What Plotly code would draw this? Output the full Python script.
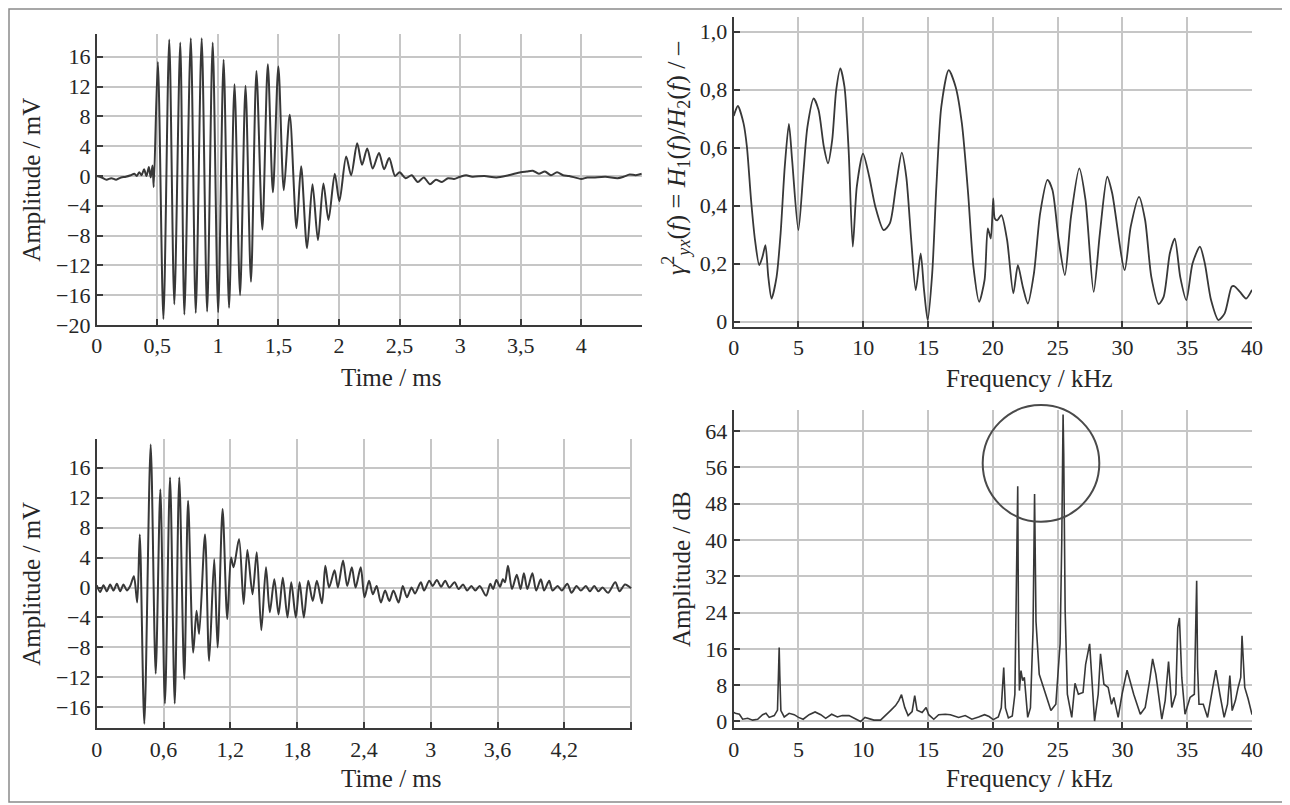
import plotly.graph_objects as go

# ---------------- data ----------------
# Panel 1: time signal (top-left)
time_top = [0, 0.04, 0.08, 0.12, 0.16, 0.2, 0.24, 0.28, 0.31, 0.33, 0.35, 0.37, 0.39, 0.41, 0.43, 0.445, 0.46, 0.47,
            0.504, 0.55, 0.598, 0.64, 0.689, 0.723, 0.776, 0.817, 0.866, 0.911,
            0.957, 1.002, 1.047, 1.092, 1.137, 1.183, 1.228, 1.273, 1.318, 1.367,
            1.412, 1.454, 1.499, 1.544, 1.593, 1.649, 1.687, 1.736, 1.781, 1.826,
            1.871, 1.913, 1.965, 2.003, 2.059, 2.10, 2.15, 2.19, 2.233, 2.278,
            2.33, 2.372, 2.414, 2.463,
            2.5, 2.55, 2.6, 2.65, 2.7, 2.75, 2.8, 2.85, 2.9, 2.95,
            3.0, 3.05, 3.1, 3.2, 3.3, 3.4, 3.5, 3.55, 3.6, 3.65,
            3.7, 3.75, 3.8, 3.85, 3.9, 4.0, 4.05, 4.1, 4.2, 4.3,
            4.35, 4.4, 4.45, 4.5]
amp_top = [0, -0.2, -0.5, -0.3, -0.5, -0.2, -0.1, 0.1, 0.3, 0.0, 0.5, 0.1, 0.9, 0.0, 1.2, -0.2, 1.4, -1.5,
           15.3, -19.2, 18.3, -17.2, 17.9, -18.6, 18.5, -18.4, 18.5, -18.2,
           17.9, -18.3, 15.6, -17.7, 12.3, -16.0, 12.1, -14.2, 14.1, -7.2,
           15.0, -2.2, 14.7, -1.9, 8.2, -7.0, 1.3, -9.7, -1.1, -8.6,
           -1.0, -5.9, 0.3, -3.4, 2.6, 0.1, 4.4, 1.5, 3.7, 1.0,
           3.1, 0.9, 2.4, 0.0,
           0.5, -0.3, 0.1, -0.8, -0.2, -1.1, -0.5, -0.8, -0.3, -0.4,
           -0.1, 0.1, -0.1, 0.0, -0.2, 0.1, 0.5, 0.6, 0.7, 0.3,
           0.6, 0.1, 0.5, 0.1, 0.0, -0.4, -0.2, -0.2, -0.1, -0.3,
           -0.1, 0.2, 0.1, 0.3]

# Panel 2: coherence (top-right)
freq_coh = [0.0, 0.06, 0.32, 0.76, 1.02, 1.34, 1.65, 1.97, 2.22, 2.45, 2.67, 2.92, 3.31, 3.62, 3.94, 4.26, 4.51,
            4.99, 5.37, 5.69, 6.17, 6.55, 6.96, 7.28, 7.6, 7.91, 8.23, 8.55, 8.87, 9.19, 9.5, 9.98,
            10.46, 10.93, 11.57, 12.05, 12.52, 12.97, 13.32, 13.7, 14.05, 14.43, 14.69, 14.97, 15.32,
            15.64, 16.02, 16.59, 17.13, 17.61, 18.09, 18.5, 18.94, 19.36, 19.61, 19.84, 20.03, 20.15,
            20.34, 20.66, 21.1, 21.58, 21.93, 22.31, 22.7, 23.17, 23.65, 24.22, 24.6, 25.08, 25.56,
            26.03, 26.67, 27.15, 27.78, 28.26, 28.83, 29.21, 30.17, 30.64, 31.28, 31.75, 32.23, 32.8,
            33.18, 33.66, 34.04, 34.46, 34.93, 35.41, 35.98, 36.36, 36.84, 37.41, 37.89, 38.43, 38.62,
            39.07, 39.54, 40.0]
coh_vals = [0.71, 0.718, 0.744, 0.684, 0.603, 0.42, 0.28, 0.195, 0.224, 0.264, 0.155, 0.08, 0.155, 0.305, 0.534, 0.682, 0.557,
            0.316, 0.511, 0.672, 0.77, 0.73, 0.603, 0.546, 0.626, 0.799, 0.874, 0.81, 0.592, 0.259, 0.466, 0.58,
            0.5, 0.397, 0.316, 0.339, 0.466, 0.583, 0.5, 0.282, 0.109, 0.236, 0.109, 0.006, 0.167,
            0.466, 0.741, 0.868, 0.81, 0.684, 0.443, 0.19, 0.069, 0.144, 0.322, 0.287, 0.425, 0.356,
            0.35, 0.368, 0.282, 0.098, 0.195, 0.121, 0.063, 0.167, 0.374, 0.489, 0.454, 0.282, 0.161,
            0.362, 0.529, 0.42, 0.103, 0.305, 0.5, 0.443, 0.178, 0.328, 0.431, 0.351, 0.155, 0.061,
            0.086, 0.236, 0.287, 0.155, 0.075, 0.201, 0.259, 0.201, 0.075, 0.006, 0.029, 0.121, 0.123,
            0.103, 0.08, 0.11]

# Panel 3: time signal (bottom-left)
time_bot = [0, 0.03, 0.06, 0.09, 0.12, 0.15, 0.18, 0.21, 0.24, 0.27, 0.30, 0.333, 0.363,
            0.386, 0.427, 0.484, 0.529, 0.571, 0.612, 0.658, 0.70, 0.741, 0.786, 0.82, 0.866, 0.896, 0.919,
            0.972, 1.009, 1.055, 1.085, 1.13, 1.172, 1.206, 1.229, 1.278, 1.319, 1.353, 1.399, 1.437,
            1.478, 1.52, 1.554, 1.595, 1.633, 1.671, 1.713, 1.747, 1.788, 1.822, 1.86, 1.9, 1.94, 1.977,
            2.023, 2.053, 2.087, 2.136, 2.166, 2.212, 2.25, 2.291, 2.325, 2.371, 2.405, 2.446, 2.48,
            2.514, 2.552, 2.59, 2.628, 2.665, 2.711, 2.749, 2.786, 2.828, 2.858, 2.911, 2.94, 2.987,
            3.017, 3.055, 3.093, 3.13, 3.168, 3.214, 3.25, 3.29, 3.327, 3.365, 3.4, 3.44, 3.497, 3.535,
            3.56, 3.59, 3.622, 3.648, 3.667, 3.694, 3.73, 3.773, 3.807, 3.837, 3.868, 3.913, 3.947,
            3.989, 4.019, 4.064, 4.094, 4.14, 4.178, 4.227, 4.265, 4.31, 4.348, 4.393, 4.43, 4.469,
            4.507, 4.544, 4.593, 4.658, 4.696, 4.745, 4.80]
amp_bot = [0.3, -0.6, 0.3, -0.5, 0.4, -0.4, 0.5, -0.5, 0.4, -0.4, 0.2, 1.5, -2.0,
           7.1, -18.2, 19.1, -11.5, 13.1, -15.5, 14.7, -15.5, 14.7, -12.2, 11.6, -8.7, -3.1, -6.2,
           7.1, -9.8, 3.8, -8.0, 10.5, -4.2, 4.0, 2.7, 6.5, -2.2, 5.0, -0.9, 4.7,
           -5.7, 2.7, -3.3, 1.1, -3.6, 1.3, -4.0, 0.7, -4.0, 0.7, -4.0, 0.9, -1.8, 0.9,
           -2.1, 2.9, 0.0, 2.3, 0.0, 3.6, 0.2, 2.7, 0.0, 2.7, -1.3, 0.9, -0.9,
           0.2, -2.0, -0.4, -1.8, -0.4, -2.0, 0.2, -1.3, 0.0, -0.8, 0.7, -0.4, 0.9,
           0.2, 1.0, 0.1, 0.9, 0.0, 0.7, -0.2, 0.4, -0.4, 0.2, -0.4, 0.2, -1.1, 0.5,
           -0.2, 1.0, 0.1, 1.1, 0.7, 2.9, -0.2, 1.7, -0.2, 1.9, -0.2, 1.9, -0.4,
           1.1, -0.4, 0.9, -0.4, 0.2, -0.4, 0.5, -0.7, 0.2, -0.4, 0.2, -0.5, 0.2,
           -0.5, 0.0, -0.7, 0.7, -0.5, 0.4, -0.1]

# Panel 4: amplitude spectrum (bottom-right)
freq_spec = [0.0, 0.13, 0.44, 0.69, 1.08, 1.46, 1.85, 2.23, 2.49, 2.74, 3.13, 3.38, 3.47, 3.51, 3.56, 3.64, 3.9,
             4.28, 4.67, 5.0, 5.36, 5.82, 6.28, 6.72, 7.1, 7.56, 8.0, 8.38, 8.9, 9.41, 9.79, 10.13, 10.44,
             10.82, 11.33, 11.72, 12.1, 12.49, 12.74, 12.95, 13.2, 13.46, 13.77, 13.97, 14.15, 14.54, 14.85,
             15.05, 15.44, 15.82, 16.33, 16.72, 17.36, 17.87, 18.38, 18.9, 19.36, 19.71, 20.03, 20.42, 20.65,
             20.84, 20.97, 21.2, 21.5, 21.7, 21.8, 21.92, 21.98, 22.05, 22.17, 22.3, 22.43, 22.69, 22.9, 23.1,
             23.22, 23.33, 23.58, 24.09, 24.48, 24.86, 25.19, 25.32, 25.42, 25.47, 25.52, 25.58, 25.75, 26.09,
             26.34, 26.6, 26.96, 27.16, 27.47, 27.62, 27.85, 28.13, 28.31, 28.57, 28.9, 29.16, 29.34, 29.67,
             29.97, 30.36, 30.87, 31.38, 31.76, 32.1, 32.33, 32.58, 33.04, 33.3, 33.56, 33.81, 34.12, 34.27,
             34.4, 34.58, 34.83, 35.22, 35.55, 35.65, 35.73, 35.8, 35.91, 36.24, 36.57, 36.93, 37.21, 37.52,
             37.85, 38.11, 38.29, 38.47, 38.72, 38.93, 39.13, 39.23, 39.44, 39.7, 40.0]
spec_db = [2.0, 1.8, 1.6, 0.5, 0.7, 0.3, 0.5, 1.5, 1.8, 0.9, 1.3, 2.5, 12.0, 16.3, 10.0, 2.4, 1.0,
           1.8, 1.5, 0.9, 0.5, 1.5, 2.1, 1.5, 0.7, 1.6, 1.0, 1.3, 1.3, 0.5, 0.0, 0.9, 0.7,
           0.3, 0.3, 1.3, 2.4, 3.5, 4.6, 5.9, 3.1, 1.3, 2.2, 5.7, 2.5, 2.0, 3.1,
           1.5, 0.5, 1.5, 1.6, 1.5, 0.9, 1.3, 0.5, 1.0, 1.5, 1.1, 0.4, 1.0, 3.0,
           11.9, 3.0, 0.8, 1.2, 6.0, 30.0, 51.8, 20.0, 6.8, 11.2, 9.0, 9.7, 0.9, 3.0, 20.0,
           50.1, 22.0, 10.4, 6.0, 2.4, 3.8, 17.1, 40.0, 67.6, 59.0, 35.0, 24.4, 6.0, 0.9,
           8.4, 6.0, 6.4, 12.6, 17.1, 10.4, 0.1, 6.0, 14.9, 8.2, 7.5, 3.8, 5.3, 0.9,
           6.0, 11.3, 6.0, 1.6, 3.1, 9.0, 13.8, 10.4, 0.5, 4.6, 13.2, 3.1, 6.0, 20.7,
           22.8, 9.7, 1.6, 5.3, 6.0, 20.0, 31.0, 12.0, 3.8, 3.8, 0.9, 6.8, 11.3, 6.0,
           0.9, 3.8, 10.1, 2.4, 4.6, 7.5, 9.7, 18.9, 7.5, 5.0, 1.5]

# tick labels
tt_time_top_vals = [0, 0.5, 1, 1.5, 2, 2.5, 3, 3.5, 4, 4.5]
tt_time_top_text = ["0", "0,5", "1", "1,5", "2", "2,5", "3", "3,5", "4", ""]
tt_time_bot_vals = [0, 0.6, 1.2, 1.8, 2.4, 3.0, 3.6, 4.2, 4.8]
tt_time_bot_text = ["0", "0,6", "1,2", "1,8", "2,4", "3", "3,6", "4,2", ""]
tt_freq_vals = [0, 5, 10, 15, 20, 25, 30, 35, 40]
tt_coh_vals = [0, 0.2, 0.4, 0.6, 0.8, 1.0]
tt_coh_text = ["0", "0,2", "0,4", "0,6", "0,8", "1,0"]
tt_amp_top_vals = [-20, -16, -12, -8, -4, 0, 4, 8, 12, 16]
tt_amp_bot_vals = [-16, -12, -8, -4, 0, 4, 8, 12, 16]
tt_db_vals = [0, 8, 16, 24, 32, 40, 48, 56, 64]

# ---------------- styling / layout ----------------
# The page body has an 8 px margin, so positions below are given in window
# pixels and shifted by OFF into figure coordinates.
OFF = 8
FW, FH = 1282, 797
FONT = "Liberation Serif"
TXT = "#262626"
LINE = "#383838"


def px_x(p):
    return (p - OFF) / FW


def px_y(p):
    return 1 - (p - OFF) / FH


def dom_x(a, b):
    return [px_x(a), px_x(b)]


def dom_y(top, bottom):
    return [px_y(bottom), px_y(top)]


def axis(**kw):
    d = dict(showline=True, linecolor="#3a3a3a", linewidth=2, mirror=False,
             showgrid=True, gridcolor="#c6c6c6", gridwidth=1.5, zeroline=False,
             ticks="inside", ticklen=6, tickwidth=2, tickcolor="#3a3a3a",
             tickfont=dict(family=FONT, size=22, color=TXT), fixedrange=True,
             tickmode="array", automargin=False)
    d.update(kw)
    return d


def ttl(text, standoff):
    return dict(text=text, font=dict(family=FONT, size=25, color=TXT), standoff=standoff)


fig = go.Figure()
fig.add_trace(go.Scatter(x=time_top, y=amp_top, mode="lines", xaxis="x", yaxis="y",
                         line=dict(color=LINE, width=2, shape="spline", smoothing=0.8),
                         showlegend=False, hoverinfo="skip"))
fig.add_trace(go.Scatter(x=freq_coh, y=coh_vals, mode="lines", xaxis="x2", yaxis="y2",
                         line=dict(color=LINE, width=1.8, shape="spline", smoothing=0.7),
                         showlegend=False, hoverinfo="skip"))
fig.add_trace(go.Scatter(x=time_bot, y=amp_bot, mode="lines", xaxis="x3", yaxis="y3",
                         line=dict(color=LINE, width=2, shape="spline", smoothing=0.8),
                         showlegend=False, hoverinfo="skip"))
fig.add_trace(go.Scatter(x=freq_spec, y=spec_db, mode="lines", xaxis="x4", yaxis="y4",
                         line=dict(color=LINE, width=1.6),
                         showlegend=False, hoverinfo="skip"))

coh_title = ("<i>γ</i><sup>2</sup><sub><i>yx</i></sub>(<i>f</i>) = <i>H</i><sub>1</sub>(<i>f</i>)/"
             "<i>H</i><sub>2</sub>(<i>f</i>) / –")

fig.update_layout(
    width=FW, height=FH,
    margin=dict(l=0, r=0, t=0, b=0, autoexpand=False),
    paper_bgcolor="white", plot_bgcolor="white",
    separators=", ",
    font=dict(family=FONT, color=TXT),
    xaxis=axis(domain=dom_x(96.8, 641.8), anchor="y", range=[0, 4.5],
               tickvals=tt_time_top_vals, ticktext=tt_time_top_text),
    yaxis=axis(domain=dom_y(34.4, 325), anchor="x", range=[-20, 19],
               tickvals=tt_amp_top_vals, title=ttl("Amplitude / mV", 8)),
    xaxis2=axis(domain=dom_x(733.7, 1252), anchor="y2", range=[0, 40],
                tickvals=tt_freq_vals),
    yaxis2=axis(domain=dom_y(16.7, 326.7), anchor="x2", range=[-0.017, 1.052],
                tickvals=tt_coh_vals, ticktext=tt_coh_text),
    xaxis3=axis(domain=dom_x(96.8, 632.2), anchor="y3", range=[0, 4.81],
                tickvals=tt_time_bot_vals, ticktext=tt_time_bot_text),
    yaxis3=axis(domain=dom_y(439.3, 728.3), anchor="x3", range=[-18.8, 19.8],
                tickvals=tt_amp_bot_vals, title=ttl("Amplitude / mV", 8)),
    xaxis4=axis(domain=dom_x(733.7, 1252), anchor="y4", range=[0, 40],
                tickvals=tt_freq_vals),
    yaxis4=axis(domain=dom_y(410, 728.3), anchor="x4", range=[-1.5, 68.6],
                tickvals=tt_db_vals, title=ttl("Amplitude / dB", 8)),
)

# x-axis titles, placed where the reference has them
for txt, cx, cy in [("Time / ms", 391, 377), ("Frequency / kHz", 1030, 378),
                    ("Time / ms", 391, 778), ("Frequency / kHz", 1030, 778)]:
    fig.add_annotation(text=txt, xref="paper", yref="paper", x=px_x(cx), y=px_y(cy),
                       xanchor="center", yanchor="middle", showarrow=False,
                       font=dict(family=FONT, size=25, color=TXT))

# coherence y-axis title (sits above the panel centre in the reference)
fig.add_annotation(text=coh_title, xref="paper", yref="paper", x=px_x(676), y=px_y(158),
                   xanchor="center", yanchor="middle", textangle=-90, showarrow=False,
                   font=dict(family=FONT, size=26, color=TXT))

# highlight circle around the dominant peaks (bottom-right panel)
fig.add_shape(type="circle", xref="x4 domain", yref="y4 domain",
              x0=0.4804, x1=0.7054, y0=0.649, y1=1.0157,
              line=dict(color="#4a4a4a", width=2))
# outer frame
fig.add_shape(type="rect", xref="paper", yref="paper",
              x0=px_x(9), x1=px_x(1287), y0=px_y(802), y1=px_y(9),
              line=dict(color="#8a8a8a", width=1.5))

fig.write_html("out.html")
